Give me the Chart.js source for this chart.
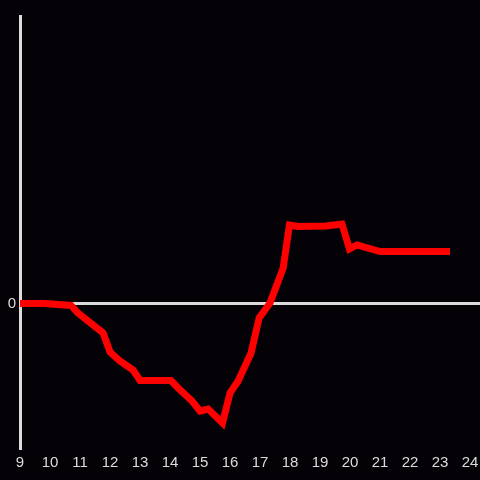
<!DOCTYPE html>
<html>
<head>
<meta charset="utf-8">
<script src="https://cdn.jsdelivr.net/npm/chart.js@4/dist/chart.umd.min.js"></script>
<style>
  html, body { margin: 0; padding: 0; background: #040206; }
  #wrap { width: 480px; height: 480px; }
</style>
</head>
<body>
<div id="wrap"><canvas id="myChart" width="480" height="480"></canvas></div>
<script>
// hour of day
const hours = [9.0, 9.83, 10.7, 10.93, 11.77, 12.0, 12.33, 12.77, 13.0, 14.03, 14.27, 14.73, 15.0, 15.27, 15.75,
               16.0, 16.27, 16.7, 16.97, 17.33, 17.77, 17.98, 18.27, 19.2, 19.73, 19.98, 20.23, 21.0, 23.33];
const values = [0, 0, -0.2, -0.95, -2.95, -4.85, -5.75, -6.65, -7.7, -7.7, -8.45, -9.75, -10.75, -10.55, -11.95,
                -8.95, -7.75, -4.95, -1.45, 0.05, 3.55, 7.85, 7.7, 7.75, 7.95, 5.45, 5.85, 5.2, 5.2];
const yTicks = [0];

const axisColor = '#dcdcdc';

const points = hours.map((h, i) => ({ x: h, y: values[i] }));

const ctx = document.getElementById('myChart');
new Chart(ctx, {
  type: 'line',
  data: {
    datasets: [{
      data: points,
      borderColor: '#ff0000',
      borderWidth: 7,
      pointRadius: 0,
      fill: false,
      tension: 0
    }]
  },
  options: {
    responsive: false,
    animation: false,
    layout: { padding: { top: 16, right: 0, left: 0, bottom: 0 } },
    plugins: { legend: { display: false }, tooltip: { enabled: false } },
    scales: {
      x: {
        type: 'linear',
        min: 9,
        max: 24.33,
        afterBuildTicks: (scale) => {
          scale.ticks = [];
          for (let h = 9; h <= 24; h++) scale.ticks.push({ value: h });
        },
        afterFit: (scale) => {
          scale.height = 32;
          scale.paddingLeft = 0;
          scale.paddingRight = 0;
        },
        grid: { display: false, drawTicks: false },
        border: { display: false },
        ticks: {
          color: axisColor,
          padding: 6,
          maxRotation: 0,
          autoSkip: false,
          font: { family: 'Liberation Sans', size: 15 }
        }
      },
      y: {
        min: -14.45,
        max: 28.75,
        afterBuildTicks: (scale) => { scale.ticks = yTicks.map(v => ({ value: v })); },
        afterFit: (scale) => {
          scale.width = 20;
          scale.paddingTop = 0;
          scale.paddingBottom = 0;
        },
        grid: {
          drawTicks: false,
          lineWidth: 3,
          color: (c) => (c.tick && c.tick.value === 0 ? axisColor : 'transparent')
        },
        border: { display: true, color: axisColor, width: 3 },
        ticks: {
          color: axisColor,
          padding: 4,
          font: { family: 'Liberation Sans', size: 15 }
        }
      }
    }
  }
});
</script>
</body>
</html>
